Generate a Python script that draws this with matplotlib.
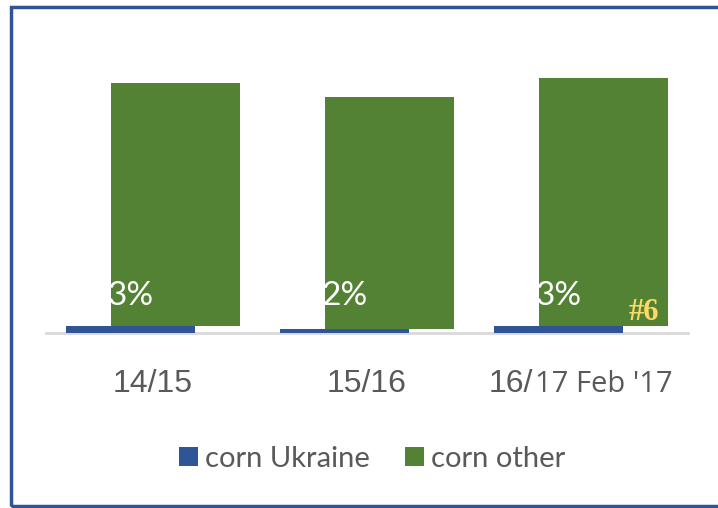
import matplotlib
matplotlib.use("Agg")
import matplotlib.pyplot as plt
from matplotlib.patches import Rectangle
import numpy as np

categories = ["14/15", "15/16", "16/"]
category_suffix = "17 Feb '17"
corn_ukraine = [28, 16, 28]
corn_other = [972, 928, 992]
share_labels = ["3%", "2%", "3%"]
rank_label = "#6"

BLUE = "#2F5597"
GREEN = "#548235"
GRAY = "#595959"

W, H = 718, 508
fig = plt.figure(figsize=(W / 100, H / 100), dpi=100)
fig.patch.set_facecolor("white")

def px(v):  # pixels -> points
    return v * 72 / 100

ax = fig.add_axes([46 / W, (H - 333) / H, 642 / W, 300 / H])
ax.set_xlim(-0.5, 2.5)
ax.set_ylim(0, 1200)

x = np.arange(len(categories))
unit = 3 / 642  # data units per pixel in x
bw = 129 * unit
off = 22.5 * unit

ax.bar(x - off, corn_ukraine, width=bw, color=BLUE, zorder=2, label="corn Ukraine")
ax.bar(x + off, corn_other, width=bw, bottom=corn_ukraine, color=GREEN, zorder=2,
       label="corn other")

for xi, lab in zip(x, share_labels):
    ax.annotate(lab, (xi - off, 0), xytext=(px(0), px(28)), textcoords="offset points",
                ha="center", va="baseline", color="white", fontsize=24,
                family=["Lato", "DejaVu Sans"], zorder=5)

ax.annotate(rank_label, (x[2], 0), xytext=(px(63), px(13)), textcoords="offset points",
            ha="center", va="baseline", color="#FFD966", fontsize=22, fontweight="bold",
            family=["Liberation Serif", "DejaVu Serif"], zorder=5)

for s in ["top", "right", "left"]:
    ax.spines[s].set_visible(False)
ax.spines["bottom"].set_color("#D9D9D9")
ax.spines["bottom"].set_linewidth(2)
ax.spines["bottom"].set_zorder(1)
ax.set_yticks([])
ax.set_xticks([])

# category labels
for xi, lab in zip(x[:2], categories[:2]):
    ax.annotate(lab, (xi, 0), xytext=(0, -px(59)), textcoords="offset points",
                ha="center", va="baseline", color=GRAY, fontsize=23,
                family=["Liberation Sans", "DejaVu Sans"])
ax.annotate(categories[2], (x[2], 0), xytext=(-px(48), -px(59)), textcoords="offset points",
            ha="right", va="baseline", color=GRAY, fontsize=23,
            family=["Liberation Sans", "DejaVu Sans"])
ax.annotate(category_suffix, (x[2], 0), xytext=(-px(46), -px(59)), textcoords="offset points",
            ha="left", va="baseline", color=GRAY, fontsize=21,
            family=["Open Sans", "DejaVu Sans"])

leg = fig.legend(loc="center", bbox_to_anchor=(372 / W, (H - 459) / H), ncol=2,
                 frameon=False, prop={"family": ["Lato", "DejaVu Sans"], "size": 21},
                 handlelength=0.65, handleheight=0.65, handletextpad=0.25, columnspacing=1.2)
for t in leg.get_texts():
    t.set_color(GRAY)

fig.patches.append(Rectangle((11 / W, 2 / H), 1.2, (H - 7) / H - 2 / H,
                             transform=fig.transFigure, fill=False,
                             edgecolor=BLUE, linewidth=2.5, clip_on=False))

fig.savefig("out.png", dpi=100, facecolor="white")
